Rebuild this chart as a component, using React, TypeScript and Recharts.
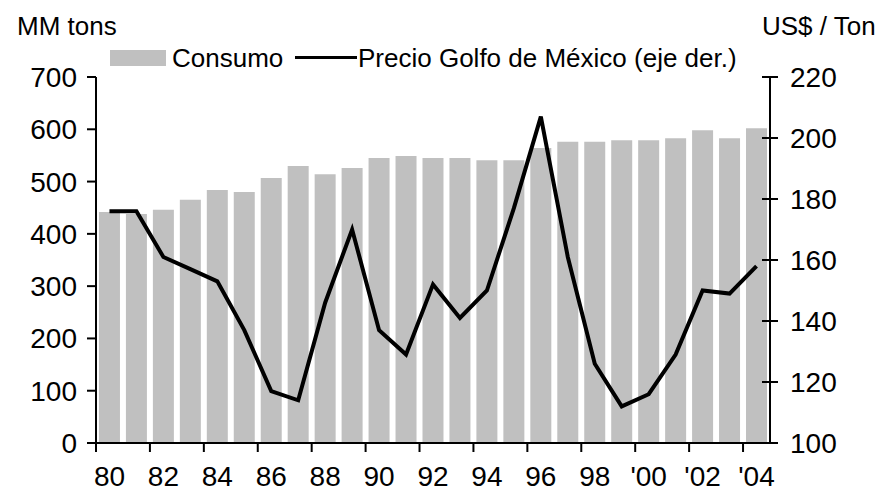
import { ComposedChart, Bar, Line, XAxis, YAxis } from "recharts";

const years = [
  "80", "81", "82", "83", "84", "85", "86", "87", "88", "89",
  "90", "91", "92", "93", "94", "95", "96", "97", "98", "99",
  "'00", "'01", "'02", "'03", "'04",
];

// consumo, MM tons (eje izq.)
const consumo = [
  442, 438, 446, 465, 484, 480, 507, 530, 514, 526,
  545, 549, 545, 545, 541, 541, 564, 576, 576, 579,
  579, 583, 598, 583, 602,
];

// precio Golfo de México, US$/ton (eje der.)
const precio = [
  176, 176, 161, 157, 153, 137, 117, 114, 146, 170,
  137, 129, 152, 141, 150, 177, 207, 161, 126, 112,
  116, 129, 150, 149, 158,
];

const leftTicks = [0, 100, 200, 300, 400, 500, 600, 700];
const rightTicks = [100, 120, 140, 160, 180, 200, 220];

const data = years.map((year, i) => ({
  year,
  consumo: consumo[i],
  precio: precio[i],
}));

const W = 884;
const H = 493;
const LEFT = 96;
const RIGHT = 770;
const TOP = 77;
const BOTTOM = 443;
const BAND = (RIGHT - LEFT) / years.length;
const FONT = "'Liberation Sans', Arial, sans-serif";

function XTick({ x, y, payload }: any) {
  const tx = x - BAND / 2;
  return (
    <g>
      <line x1={tx} x2={tx} y1={y} y2={y + 9} stroke="#000" strokeWidth={2} />
      <text x={x} y={y + 43} textAnchor="middle" fontSize={28} fill="#000" fontFamily={FONT}>
        {payload.value}
      </text>
    </g>
  );
}

function RightTick({ x, y, payload }: any) {
  return (
    <g>
      <line x1={x - 8} x2={x + 8} y1={y} y2={y} stroke="#000" strokeWidth={2} />
      <text x={x + 20} y={y} dy="0.355em" textAnchor="start" fontSize={28} fill="#000" fontFamily={FONT}>
        {payload.value}
      </text>
    </g>
  );
}

export default function App() {
  return (
    <div style={{ position: "absolute", left: 0, top: 0, width: W, height: H, background: "#fff" }}>
      <ComposedChart
        width={W}
        height={H}
        data={data}
        margin={{ top: TOP, right: 0, bottom: 0, left: 0 }}
        barCategoryGap="11%"
      >
        <XAxis
          dataKey="year"
          height={H - BOTTOM}
          interval={1}
          tickSize={0}
          tickMargin={0}
          tickLine={false}
          axisLine={{ stroke: "#000", strokeWidth: 2 }}
          tick={<XTick />}
        />
        <YAxis
          yAxisId="left"
          width={LEFT}
          domain={[0, 700]}
          ticks={leftTicks}
          interval={0}
          tickSize={9}
          tickMargin={10}
          axisLine={{ stroke: "#000", strokeWidth: 2 }}
          tickLine={{ stroke: "#000", strokeWidth: 2 }}
          tick={{ fontSize: 28, fill: "#000", fontFamily: FONT }}
        />
        <YAxis
          yAxisId="right"
          orientation="right"
          width={W - RIGHT}
          domain={[100, 220]}
          ticks={rightTicks}
          interval={0}
          tickSize={0}
          tickMargin={0}
          tickLine={false}
          axisLine={{ stroke: "#000", strokeWidth: 2 }}
          tick={<RightTick />}
        />
        <Bar yAxisId="left" dataKey="consumo" fill="#c0c0c0" isAnimationActive={false} />
        <Line
          yAxisId="right"
          dataKey="precio"
          type="linear"
          stroke="#000"
          strokeWidth={4}
          strokeLinejoin="miter"
          dot={false}
          activeDot={false}
          isAnimationActive={false}
        />
      </ComposedChart>
      <svg
        width={W}
        height={H}
        style={{ position: "absolute", left: 0, top: 0, pointerEvents: "none" }}
        fontFamily={FONT}
      >
        <text x={17} y={35} fontSize={26} fill="#000">MM tons</text>
        <text x={762} y={35} fontSize={26} fill="#000">US$ / Ton</text>
        <rect x={110} y={50} width={56} height={16} fill="#c0c0c0" />
        <text x={172} y={67} fontSize={26} fill="#000">Consumo</text>
        <line x1={295} x2={357} y1={57.5} y2={57.5} stroke="#000" strokeWidth={3} />
        <text x={358} y={67} fontSize={26} fill="#000">Precio Golfo de México (eje der.)</text>
      </svg>
    </div>
  );
}
